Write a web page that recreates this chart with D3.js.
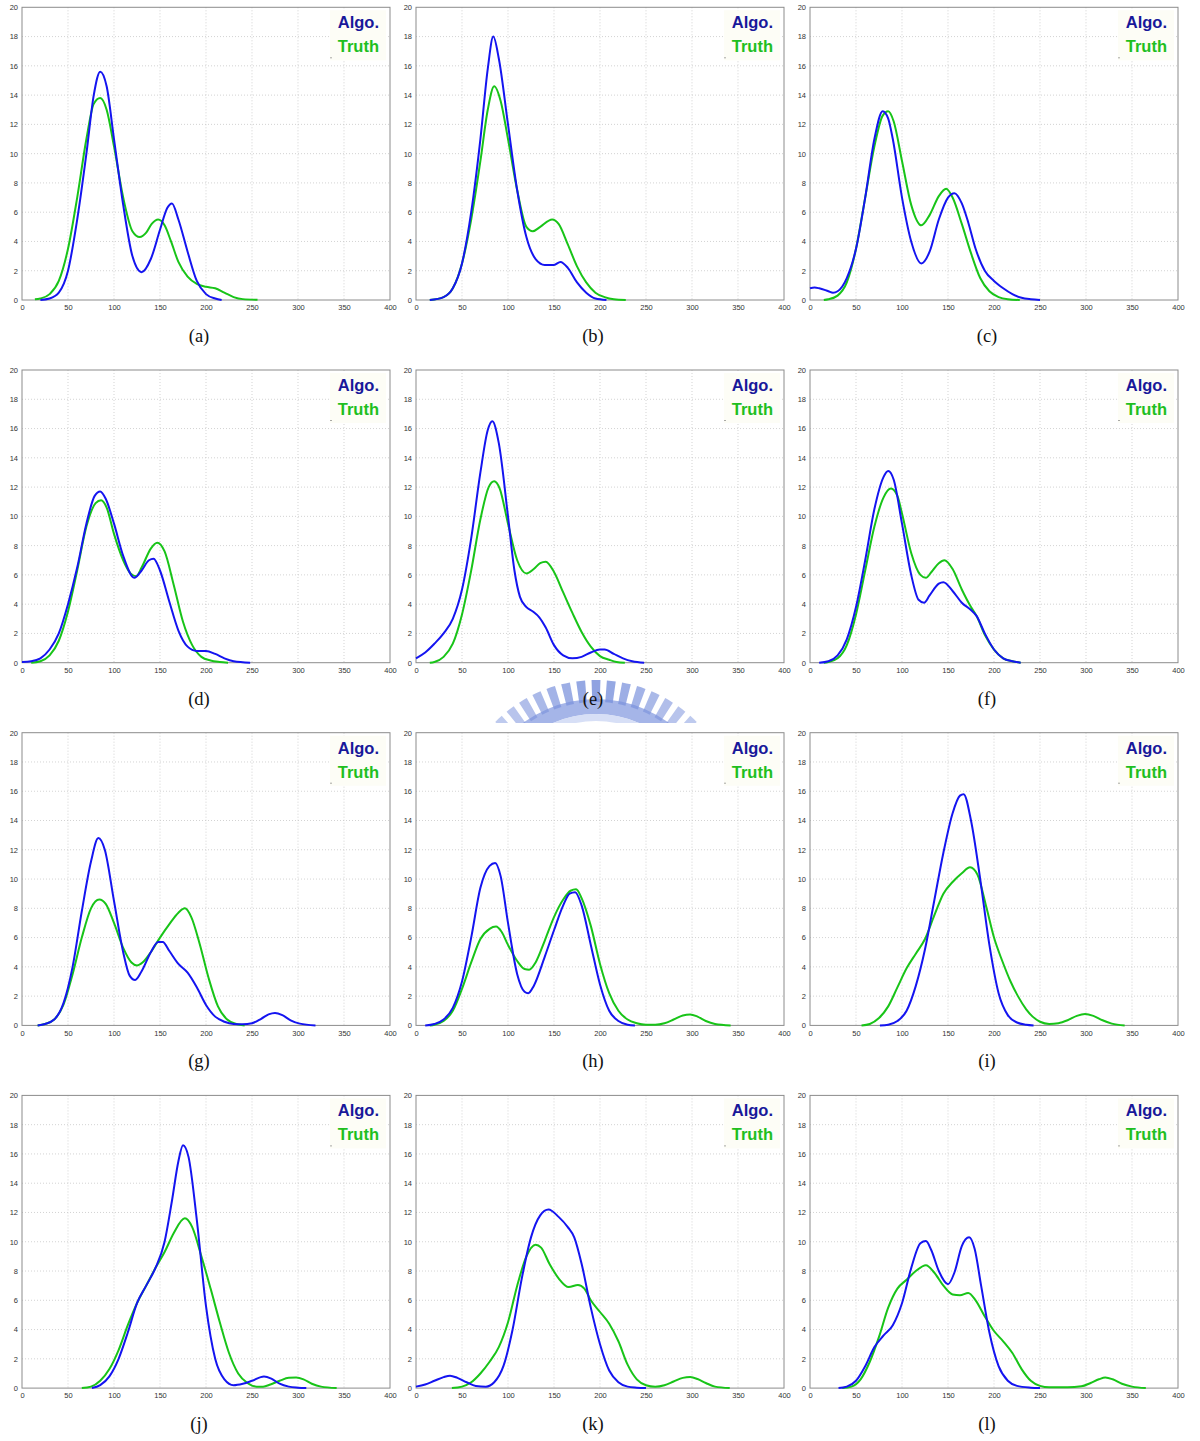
<!DOCTYPE html>
<html>
<head>
<meta charset="utf-8">
<script src="https://cdn.jsdelivr.net/npm/d3@7"></script>
<style>
  html, body { margin: 0; padding: 0; background: #fff; }
  svg { display: block; }
</style>
</head>
<body>
<svg id="fig" width="1200" height="1441"></svg>
<script>
// Axis ticks shared by all twelve panels
const xTicks = [0, 50, 100, 150, 200, 250, 300, 350, 400];
const yTicks = [0, 2, 4, 6, 8, 10, 12, 14, 16, 18, 20];
const panelLabels = ["(a)", "(b)", "(c)", "(d)", "(e)", "(f)", "(g)", "(h)", "(i)", "(j)", "(k)", "(l)"];
const seriesNames = ["Algo.", "Truth"];

// Density curves: [value, density] pairs, one array per panel and series
const algoA = [[20,0],[30,0.1],[40,0.5],[50,2],[60,5.5],[70,10],[78,14],[85,15.6],[92,14.6],[100,11],[110,6.5],[120,3],[130,1.9],[140,2.8],[150,4.8],[158,6.3],[163,6.6],[170,5.5],[180,3.3],[190,1.3],[200,0.4],[210,0.1],[217,0]];
const truthA = [[14,0.05],[20,0.1],[30,0.4],[40,1.3],[50,3.5],[60,7],[70,11],[78,13.4],[85,13.8],[92,13],[100,10.5],[110,7],[120,4.7],[128,4.3],[135,4.6],[141,5.2],[148,5.5],[155,5.1],[162,4],[170,2.6],[180,1.6],[190,1.1],[200,0.9],[210,0.8],[220,0.5],[230,0.2],[240,0.06],[256,0.02]];

const algoB = [[15,0],[30,0.2],[40,0.8],[50,2.5],[60,6],[70,11],[78,15.8],[84,18],[90,16.5],[100,12],[110,7.5],[120,4.3],[130,2.8],[140,2.4],[150,2.4],[157,2.6],[165,2.2],[175,1.2],[185,0.5],[195,0.1],[207,0]];
const truthB = [[15,0],[30,0.2],[40,0.8],[50,2.5],[60,5.5],[70,9.5],[78,13],[85,14.6],[92,13.6],[100,11],[110,7.5],[120,5],[127,4.7],[135,5],[148,5.5],[155,5.2],[165,3.8],[175,2.3],[185,1.2],[195,0.5],[205,0.2],[215,0.05],[228,0]];

const algoC = [[0,0.8],[5,0.85],[10,0.8],[20,0.6],[25,0.5],[30,0.6],[40,1.5],[50,3.5],[60,7],[70,11],[79,12.9],[85,12.4],[90,11],[100,7],[110,4],[121,2.5],[130,3.3],[140,5.5],[150,7],[157,7.3],[165,6.6],[172,5.3],[180,3.5],[190,2],[200,1.3],[210,0.8],[220,0.4],[230,0.15],[240,0.05],[250,0]];
const truthC = [[15,0],[20,0.05],[30,0.3],[40,1.2],[50,3.5],[60,7],[70,10.5],[79,12.6],[85,12.9],[91,12.2],[100,9.5],[110,6.5],[121,5.1],[130,5.8],[140,7.1],[148,7.6],[155,7],[165,5.2],[175,3.2],[185,1.5],[195,0.6],[205,0.2],[215,0.05],[228,0]];

const algoD = [[0,0.05],[10,0.1],[20,0.3],[30,0.9],[40,2],[50,4],[60,6.5],[70,9.5],[79,11.4],[85,11.7],[91,11.2],[100,9.5],[110,7.3],[122,5.8],[130,6.3],[138,7],[143,7.1],[150,6.3],[160,4.2],[170,2.2],[180,1.1],[190,0.8],[200,0.8],[210,0.6],[220,0.3],[230,0.1],[248,0]];
const truthD = [[10,0],[20,0.1],[30,0.5],[40,1.5],[50,3.5],[60,6.3],[70,9.3],[80,10.9],[86,11.1],[92,10.6],[100,8.8],[110,7],[118,6.1],[124,5.9],[130,6.5],[140,7.8],[147,8.2],[155,7.6],[165,5.3],[175,2.8],[185,1.2],[195,0.4],[205,0.15],[215,0.05],[224,0]];

const algoE = [[0,0.3],[10,0.7],[20,1.3],[30,2],[40,3],[50,5],[60,8.5],[70,13],[78,15.9],[83,16.5],[90,15],[100,10],[107,6.3],[113,4.5],[120,3.8],[127,3.5],[134,3.1],[141,2.4],[150,1.2],[160,0.5],[170,0.3],[180,0.4],[190,0.7],[200,0.9],[205,0.9],[215,0.6],[225,0.3],[235,0.1],[248,0]];
const truthE = [[15,0],[20,0.05],[30,0.4],[40,1.3],[50,3.3],[60,6.3],[70,9.8],[79,12],[85,12.4],[91,11.9],[100,9.5],[110,7],[120,6.1],[128,6.4],[135,6.8],[141,6.9],[150,6.2],[160,4.8],[170,3.4],[180,2.1],[190,1.1],[200,0.45],[210,0.2],[218,0.05],[227,0]];

const algoF = [[10,0],[20,0.1],[30,0.5],[40,1.6],[50,3.8],[60,7],[70,10.5],[80,12.7],[85,13.1],[91,12.5],[100,9.5],[110,6],[118,4.3],[124,4.1],[130,4.6],[140,5.4],[145,5.5],[155,4.9],[165,4.1],[175,3.6],[181,3.2],[190,2],[200,0.9],[210,0.3],[220,0.1],[229,0]];
const truthF = [[15,0],[20,0.05],[30,0.3],[40,1.2],[50,3.3],[60,6.3],[70,9.3],[80,11.3],[88,11.9],[95,11.4],[100,10.2],[110,7.5],[120,6],[126,5.8],[132,6.2],[140,6.8],[146,7],[155,6.4],[165,5],[175,3.8],[181,3.2],[190,1.9],[200,0.9],[210,0.3],[220,0.1],[229,0]];

const algoG = [[17,0],[25,0.1],[35,0.4],[45,1.5],[55,4],[65,7.8],[75,11.2],[83,12.8],[90,12],[100,8.5],[110,5],[117,3.4],[123,3.1],[130,3.7],[140,5],[148,5.7],[153,5.7],[160,5.1],[170,4.2],[180,3.6],[190,2.6],[200,1.4],[210,0.6],[220,0.25],[230,0.1],[240,0.08],[250,0.15],[260,0.45],[268,0.75],[275,0.85],[283,0.7],[292,0.35],[302,0.12],[319,0]];
const truthG = [[17,0],[25,0.1],[35,0.4],[45,1.4],[55,3.5],[65,6],[75,8],[84,8.6],[91,8.3],[100,7],[110,5.3],[119,4.3],[125,4.1],[131,4.3],[140,5],[150,6],[160,6.9],[170,7.7],[177,8],[184,7.4],[193,5.6],[203,3.2],[213,1.3],[223,0.4],[233,0.1],[242,0]];

const algoH = [[10,0],[20,0.1],[30,0.4],[40,1.2],[50,3],[60,6],[70,9.4],[80,10.9],[86,11.1],[92,10.2],[100,7],[110,3.5],[118,2.3],[122,2.2],[128,2.7],[140,4.7],[150,6.5],[160,8.2],[167,9],[173,9.1],[180,8.2],[190,5.5],[200,2.8],[210,1],[220,0.3],[230,0.05],[238,0]];
const truthH = [[15,0],[20,0.05],[30,0.3],[40,1],[50,2.5],[60,4.3],[70,5.9],[80,6.6],[87,6.75],[93,6.4],[100,5.5],[110,4.4],[118,3.85],[123,3.8],[130,4.3],[140,5.8],[150,7.4],[160,8.6],[168,9.2],[174,9.3],[180,8.7],[190,6.8],[200,4.2],[210,2.2],[220,1],[230,0.4],[240,0.15],[250,0.05],[260,0.05],[270,0.15],[280,0.4],[290,0.68],[298,0.75],[306,0.6],[315,0.3],[325,0.1],[342,0]];

const algoI = [[76,0],[85,0.05],[95,0.3],[105,1],[115,2.7],[125,5.2],[135,8.5],[145,11.8],[155,14.5],[163,15.7],[167,15.8],[175,14],[185,10],[195,5.5],[205,2.2],[215,0.7],[225,0.2],[235,0.05],[243,0]];
const truthI = [[56,0],[65,0.1],[75,0.5],[85,1.3],[95,2.6],[105,3.9],[115,4.9],[125,5.9],[135,7.5],[145,9],[155,9.8],[165,10.4],[174,10.8],[182,10.3],[192,8],[200,6],[209,4.4],[218,3],[226,2],[235,1.1],[242,0.6],[250,0.25],[260,0.1],[270,0.15],[280,0.35],[290,0.65],[299,0.78],[308,0.65],[318,0.35],[328,0.12],[342,0]];

const algoJ = [[76,0],[85,0.2],[95,0.8],[105,2],[115,3.8],[125,5.8],[135,7],[145,8.2],[155,10],[163,12.8],[170,15.5],[175,16.6],[181,15.8],[190,11.5],[200,5.6],[210,2],[220,0.6],[230,0.2],[240,0.3],[250,0.5],[263,0.8],[271,0.65],[280,0.3],[290,0.1],[300,0.03],[309,0]];
const truthJ = [[65,0],[75,0.1],[85,0.5],[95,1.3],[105,2.6],[115,4.3],[125,5.8],[135,7],[145,8.2],[155,9.3],[165,10.6],[177,11.6],[185,11],[195,9],[205,6.8],[215,4.5],[225,2.4],[235,1],[245,0.35],[255,0.1],[262,0.1],[270,0.25],[280,0.5],[290,0.7],[298,0.72],[306,0.6],[315,0.3],[325,0.1],[342,0]];

const algoK = [[0,0.1],[10,0.25],[20,0.5],[30,0.75],[37,0.85],[45,0.7],[55,0.4],[65,0.15],[76,0.1],[85,0.4],[95,1.5],[105,4],[115,7.5],[125,10.3],[135,11.8],[144,12.2],[155,11.7],[165,11],[172,10.3],[180,8.5],[190,5.5],[200,3],[210,1.2],[220,0.4],[230,0.1],[240,0.03],[250,0]];
const truthK = [[39,0],[50,0.1],[60,0.4],[70,1],[80,1.8],[90,2.8],[100,4.5],[110,7],[120,9],[130,9.8],[136,9.6],[145,8.5],[155,7.5],[166,6.9],[176,7.05],[183,6.8],[190,6],[200,5.2],[210,4.4],[220,3.2],[230,1.6],[240,0.6],[250,0.2],[260,0.1],[270,0.2],[280,0.45],[290,0.7],[298,0.75],[306,0.62],[315,0.35],[325,0.1],[341,0]];

const algoL = [[31,0],[40,0.1],[50,0.5],[60,1.5],[70,2.8],[80,3.6],[90,4.3],[100,5.8],[110,8.2],[120,9.9],[126,10.05],[132,9.4],[140,8],[150,7.1],[157,7.9],[165,9.7],[173,10.3],[179,9.5],[186,7],[195,3.8],[205,1.5],[215,0.5],[225,0.15],[240,0.03],[250,0]];
const truthL = [[35,0],[45,0.1],[55,0.6],[65,1.8],[75,3.5],[85,5.5],[95,6.8],[105,7.4],[115,8],[126,8.4],[135,7.9],[145,7],[155,6.4],[163,6.35],[172,6.5],[180,6],[190,4.9],[200,3.9],[210,3.2],[220,2.4],[230,1.3],[240,0.5],[250,0.15],[260,0.05],[280,0.05],[295,0.12],[305,0.35],[314,0.6],[321,0.72],[329,0.6],[339,0.3],[350,0.1],[365,0]];

const algoSeries = [algoA, algoB, algoC, algoD, algoE, algoF, algoG, algoH, algoI, algoJ, algoK, algoL];
const truthSeries = [truthA, truthB, truthC, truthD, truthE, truthF, truthG, truthH, truthI, truthJ, truthK, truthL];

// Layout of the 4 x 3 grid
const plotW = 368, plotH = 292.7;
const colLeft = [22, 416, 810];
const rowTop0 = 7.3, rowStep = 362.7;

const algoColor = "#1414f0", truthColor = "#18c418";

const svg = d3.select("#fig");

// Faded university seal behind the (e) caption, cut off by the panel row below it
(function drawSeal() {
  const cx = 596, cy = 822;
  svg.append("defs").append("clipPath").attr("id", "sealClip")
    .append("rect").attr("x", 0).attr("y", 0).attr("width", 1200).attr("height", 723);
  const outer = svg.append("g").attr("clip-path", "url(#sealClip)");
  const g = outer.append("g").attr("transform", `translate(${cx},${cy})`);
  const toRad = a => a * Math.PI / 180;
  // ring body
  g.append("path")
    .attr("d", d3.arc()({innerRadius: 108, outerRadius: 123, startAngle: toRad(-47), endAngle: toRad(47)}))
    .attr("fill", "#8fa3e2").attr("opacity", 0.8);
  // lighter inner band
  g.append("path")
    .attr("d", d3.arc()({innerRadius: 101, outerRadius: 108, startAngle: toRad(-47), endAngle: toRad(47)}))
    .attr("fill", "#cdd7f4").attr("opacity", 0.8);
  // teeth
  const teeth = d3.range(-43.4, 43.5, 6.2);
  g.selectAll("path.tooth").data(teeth).join("path")
    .attr("class", "tooth")
    .attr("d", a => d3.arc()({innerRadius: 120, outerRadius: 142, startAngle: toRad(a - 1.8), endAngle: toRad(a + 1.8)}))
    .attr("fill", "#7b92dc")
    .attr("opacity", a => 0.85 - Math.abs(a) / 120);
})();

const x = d3.scaleLinear().domain([0, 400]).range([0, plotW]);
const y = d3.scaleLinear().domain([0, 20]).range([plotH, 0]);
const line = d3.line().x(d => x(d[0])).y(d => y(d[1])).curve(d3.curveMonotoneX);

panelLabels.forEach((label, i) => {
  const col = i % 3, row = Math.floor(i / 3);
  const g = svg.append("g")
    .attr("transform", `translate(${colLeft[col]},${rowTop0 + row * rowStep})`);

  // dotted grid
  g.append("g").selectAll("line").data(xTicks.slice(1, -1)).join("line")
    .attr("x1", d => x(d)).attr("x2", d => x(d)).attr("y1", 0).attr("y2", plotH)
    .attr("stroke", "#c8c8c8").attr("stroke-width", 0.8).attr("stroke-dasharray", "1,2");
  g.append("g").selectAll("line").data(yTicks.slice(1, -1)).join("line")
    .attr("y1", d => y(d)).attr("y2", d => y(d)).attr("x1", 0).attr("x2", plotW)
    .attr("stroke", "#c8c8c8").attr("stroke-width", 0.8).attr("stroke-dasharray", "1,2");

  // axes (labels only, frame drawn separately)
  const ax = g.append("g").attr("transform", `translate(0,${plotH})`)
    .call(d3.axisBottom(x).tickValues(xTicks).tickSize(0).tickPadding(5));
  const ay = g.append("g")
    .call(d3.axisLeft(y).tickValues(yTicks).tickSize(0).tickPadding(4));
  [ax, ay].forEach(a => {
    a.select(".domain").remove();
    a.selectAll("text").attr("font-family", "Liberation Sans, Arial, sans-serif")
      .attr("font-size", 7.5).attr("fill", "#333");
  });

  g.append("rect").attr("x", 0).attr("y", 0).attr("width", plotW).attr("height", plotH)
    .attr("fill", "none").attr("stroke", "#8c8c8c").attr("stroke-width", 1);

  // legend
  g.append("rect").attr("x", 308).attr("y", 3).attr("width", 56).attr("height", 50)
    .attr("fill", "#fdfdf6");
  g.append("rect").attr("x", 308.5).attr("y", 50).attr("width", 1).attr("height", 1).attr("fill", "#555");
  g.append("text").attr("x", 357).attr("y", 21).attr("text-anchor", "end")
    .attr("font-family", "Liberation Sans, Arial, sans-serif").attr("font-weight", "bold")
    .attr("font-size", 16.5).attr("fill", "#18189a").text(seriesNames[0]);
  g.append("text").attr("x", 357).attr("y", 45).attr("text-anchor", "end")
    .attr("font-family", "Liberation Sans, Arial, sans-serif").attr("font-weight", "bold")
    .attr("font-size", 16.5).attr("fill", "#1fbf1f").text(seriesNames[1]);

  // curves
  g.append("path").datum(truthSeries[i]).attr("d", line)
    .attr("fill", "none").attr("stroke", truthColor).attr("stroke-width", 2)
    .attr("stroke-linejoin", "round");
  g.append("path").datum(algoSeries[i]).attr("d", line)
    .attr("fill", "none").attr("stroke", algoColor).attr("stroke-width", 2)
    .attr("stroke-linejoin", "round");

  // caption
  g.append("text").attr("x", 177).attr("y", 342 - 7.3).attr("text-anchor", "middle")
    .attr("font-family", "Liberation Serif, Times New Roman, serif")
    .attr("font-size", 18.5).attr("fill", "#111").text(label);
});
</script>
</body>
</html>
